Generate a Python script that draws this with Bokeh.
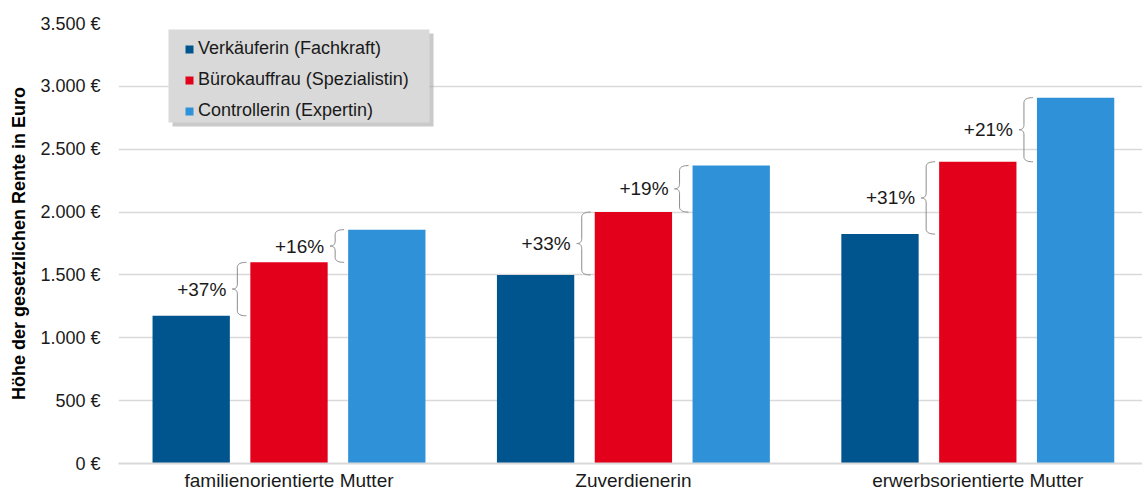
import numpy as np
from bokeh.plotting import figure
from bokeh.models import (ColumnDataSource, FixedTicker, Range1d, Legend, LegendItem,
                          LabelSet, BoxAnnotation)
from bokeh.core.properties import value
from bokeh.embed import file_html
from bokeh.resources import INLINE

# ---------------- data ----------------
categories = ["familienorientierte Mutter", "Zuverdienerin", "erwerbsorientierte Mutter"]
series_names = ["Verkäuferin (Fachkraft)", "Bürokauffrau (Spezialistin)", "Controllerin (Expertin)"]
verkaeuferin = [1175, 1500, 1825]
buerokauffrau = [1600, 2000, 2400]
controllerin = [1860, 2370, 2910]
pct_buero_vs_verk = ["+37%", "+33%", "+31%"]
pct_contr_vs_buero = ["+16%", "+19%", "+21%"]
y_ticks = [0, 500, 1000, 1500, 2000, 2500, 3000, 3500]
y_tick_labels = ["0 €", "500 €", "1.000 €", "1.500 €", "2.000 €", "2.500 €", "3.000 €", "3.500 €"]
y_title = "Höhe der gesetzlichen Rente in Euro"
colors = ["#00558F", "#E2001A", "#2F92D8"]

# ---------------- layout ----------------
FONT = "Liberation Sans"
W, H = 1142, 493
B_LEFT, B_TOP, B_BOTTOM = 118, 23, 30
FRAME_W = W - B_LEFT
FRAME_H = H - B_TOP - B_BOTTOM
PX_CAT = 344.4                     # pixels per category
FIRST_CENTER_PX = 288.5 - B_LEFT   # first group centre, from frame left
x_start = -FIRST_CENTER_PX / PX_CAT
x_end = x_start + FRAME_W / PX_CAT
Y_MAX = 3500
PX_Y = FRAME_H / Y_MAX
BAR_W = 0.2245
BAR_STEP = 0.284

frame_left_page = B_LEFT
frame_bottom_page = B_TOP + FRAME_H


def px2x(px):
    return x_start + (px - frame_left_page) / PX_CAT


def px2y(py):
    return (frame_bottom_page - py) / PX_Y


p = figure(width=W, height=H, output_backend="svg", toolbar_location=None,
           x_range=Range1d(x_start, x_end), y_range=Range1d(0, Y_MAX),
           min_border_left=B_LEFT, min_border_right=0, min_border_top=B_TOP,
           min_border_bottom=B_BOTTOM)
p.outline_line_color = None
p.background_fill_color = "white"
p.border_fill_color = "white"

series_values = [verkaeuferin, buerokauffrau, controllerin]
cat_idx = np.arange(len(categories))
renderers = []
for i, vals in enumerate(series_values):
    src = ColumnDataSource(dict(x=cat_idx + (i - 1) * BAR_STEP, top=vals))
    r = p.vbar(x="x", top="top", bottom=0, width=BAR_W, source=src,
               fill_color=colors[i], line_color=None)
    renderers.append(r)

# ---------------- braces + percentage labels ----------------
def brace(x_line, top, bot):
    tip = x_line + 9 / PX_CAT
    mtip = x_line - 5 / PX_CAT
    ry = min(5 / PX_Y, (top - bot) / 4)
    mid = (top + bot) / 2
    t = np.linspace(0, 1, 12)

    def q(p0, p1, p2):
        return ((1 - t) ** 2 * p0[0] + 2 * (1 - t) * t * p1[0] + t ** 2 * p2[0],
                (1 - t) ** 2 * p0[1] + 2 * (1 - t) * t * p1[1] + t ** 2 * p2[1])
    segs = [q((tip, top), (x_line, top), (x_line, top - ry)),
            q((x_line, mid + ry), (x_line, mid), (mtip, mid)),
            q((mtip, mid), (x_line, mid), (x_line, mid - ry)),
            q((x_line, bot + ry), (x_line, bot), (tip, bot))]
    xs = np.concatenate([s[0] for s in segs])
    ys = np.concatenate([s[1] for s in segs])
    return list(xs), list(ys)

bx, by, lx, ly, lt = [], [], [], [], []
pairs = [(0, 1, pct_buero_vs_verk), (1, 2, pct_contr_vs_buero)]
for a, b, labels in pairs:
    for c in range(len(categories)):
        lo = series_values[a][c]
        hi = series_values[b][c]
        bar_left = c + (b - 1) * BAR_STEP - BAR_W / 2
        x_line = bar_left - 13 / PX_CAT
        xs, ys = brace(x_line, hi, lo)
        bx.append(xs)
        by.append(ys)
        lx.append(x_line)
        ly.append((hi + lo) / 2)
        lt.append(labels[c])

p.multi_line(bx, by, line_color="#8c8c8c", line_width=1)

lab_src = ColumnDataSource(dict(x=lx, y=ly, text=lt))
labels = LabelSet(x="x", y="y", text="text", source=lab_src, x_offset=-11,
                  text_align="right", text_baseline="middle", text_font=value(FONT),
                  text_font_size=value("19px"), text_color=value("#1a1a1a"),
                  background_fill_color="white", background_fill_alpha=1.0)
p.add_layout(labels)

# ---------------- axes ----------------
p.xaxis.ticker = FixedTicker(ticks=list(cat_idx))
p.xaxis.major_label_overrides = {int(i): c for i, c in zip(cat_idx, categories)}
p.xaxis.major_label_text_font = FONT
p.xaxis.major_label_text_font_size = "19px"
p.xaxis.major_label_text_color = "#1a1a1a"
p.xaxis.major_label_standoff = 6
p.xaxis.major_tick_out = 0
p.xaxis.major_tick_in = 0
p.xaxis.major_tick_line_color = None
p.xaxis.minor_tick_line_color = None
p.xaxis.axis_line_color = "#d9d9d9"
p.xaxis.axis_line_width = 2

p.yaxis.ticker = FixedTicker(ticks=y_ticks)
p.yaxis.major_label_overrides = {t: l for t, l in zip(y_ticks, y_tick_labels)}
p.yaxis.major_label_text_font = FONT
p.yaxis.major_label_text_font_size = "18px"
p.yaxis.major_label_text_color = "#1a1a1a"
p.yaxis.major_label_standoff = 18
p.yaxis.major_tick_out = 0
p.yaxis.major_tick_in = 0
p.yaxis.major_tick_line_color = None
p.yaxis.minor_tick_line_color = None
p.yaxis.axis_line_color = None
p.yaxis.axis_label = y_title
p.yaxis.axis_label_text_font = FONT
p.yaxis.axis_label_text_font_size = "18px"
p.yaxis.axis_label_text_font_style = "bold"
p.yaxis.axis_label_text_color = "#000000"
p.yaxis.axis_label_standoff = 8

p.xgrid.grid_line_color = None
p.ygrid.ticker = FixedTicker(ticks=y_ticks)
p.ygrid.grid_line_color = "#d9d9d9"
p.ygrid.grid_line_width = 1.5

# ---------------- legend ----------------
box_l, box_r, box_t, box_b = 168, 429, 29, 122
shadow = BoxAnnotation(left=px2x(box_l + 4), right=px2x(box_r + 4),
                       top=px2y(box_t + 4), bottom=px2y(box_b + 4),
                       fill_color="#9e9e9e", fill_alpha=0.55, line_color=None)
box = BoxAnnotation(left=px2x(box_l), right=px2x(box_r),
                    top=px2y(box_t), bottom=px2y(box_b),
                    fill_color="#d9d9d9", fill_alpha=1.0, line_color=None)
p.add_layout(shadow)
p.add_layout(box)

legend = Legend(items=[LegendItem(label=n, renderers=[r]) for n, r in zip(series_names, renderers)],
                location=(184 - frame_left_page, frame_bottom_page - 121),
                orientation="vertical", background_fill_alpha=0, border_line_alpha=0,
                padding=0, margin=0, spacing=10, glyph_width=10, glyph_height=10,
                label_standoff=4, label_height=20, label_text_font=FONT,
                label_text_font_size="18px", label_text_color="#1a1a1a")
p.add_layout(legend)

open("out.html", "w").write(file_html(p, INLINE))
